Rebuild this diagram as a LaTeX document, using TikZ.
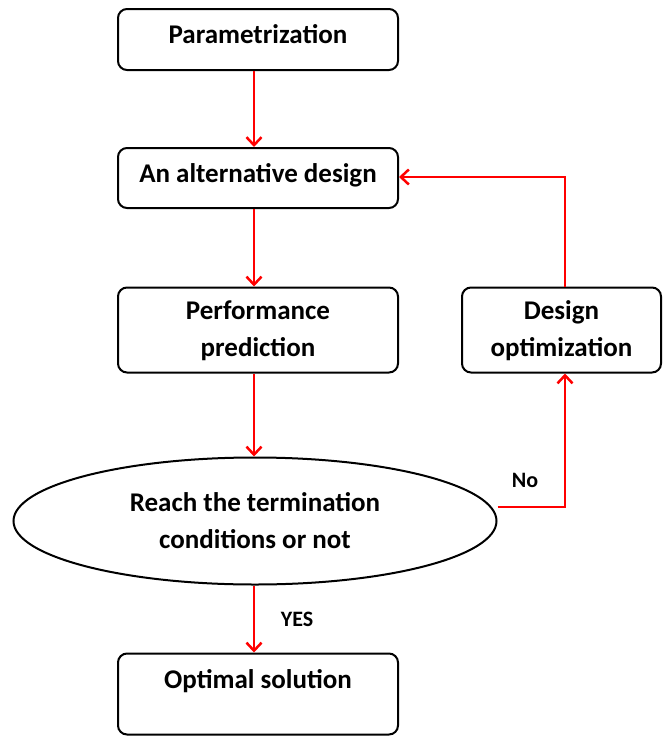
\documentclass[tikz,border=0pt]{standalone}
\usepackage{fontspec}
\setmainfont{Carlito}
\usetikzlibrary{shapes.geometric,arrows.meta}
\tikzstyle{box}=[rectangle,rounded corners=9pt,draw=black,line width=2pt,fill=white,inner sep=0pt,align=center,font=\fontsize{27}{37}\selectfont\bfseries,anchor=center]
\tikzstyle{oval}=[ellipse,draw=black,line width=2pt,inner sep=0pt,align=center,font=\fontsize{27}{37}\selectfont\bfseries]
\tikzstyle{flow}=[draw=red,line width=2.7pt,-{Straight Barb[length=8pt,width=15pt,line width=2.5pt]}]
\tikzstyle{annot}=[font=\fontsize{22}{24}\selectfont\bfseries]

\begin{document}
\begin{tikzpicture}[x=1pt,y=-1pt]
	\useasboundingbox (0,0) rectangle (664,736);

	\node[box, minimum width=280pt, minimum height=61pt, text depth=10pt](param) at (258,39.5){Parametrization};
	\node[box, minimum width=280pt, minimum height=60pt, text depth=10pt](alt) at (258,178){An alternative design};
	\node[box, minimum width=280pt, minimum height=85pt, text depth=2pt](perf) at (258,330){Performance\\prediction};
	\node[box, minimum width=199pt, minimum height=85pt, text depth=2pt](optim) at (561.5,330){Design\\optimization};
	\node[oval, minimum width=483pt, minimum height=127pt](cond) at (255,521){Reach the termination\\conditions or not};
	\node[box, minimum width=280pt, minimum height=81pt, text depth=30pt](optimal) at (258,694){Optimal solution};

	\coordinate (noturn) at (565,507);
	\coordinate (upturn) at (565,177);

	\draw[flow] (param.south -| 254,0) -- (alt.north -| 254,0);
	\draw[flow] (alt.south -| 254,0) -- (perf.north -| 254,0);
	\draw[flow] (perf.south -| 254,0) -- (cond.north -| 254,0);
	\draw[flow] (cond.south -| 254,0) -- (optimal.north -| 254,0);
	\draw[flow] (cond.east |- noturn) -- (noturn) -- (optim.south -| noturn);
	\draw[flow] (optim.north -| upturn) -- (upturn) -- (alt.east |- upturn);

	\node[annot](yes) at (297,619){YES};
	\node[annot](no) at (525,480){No};

\end{tikzpicture}
\end{document}
